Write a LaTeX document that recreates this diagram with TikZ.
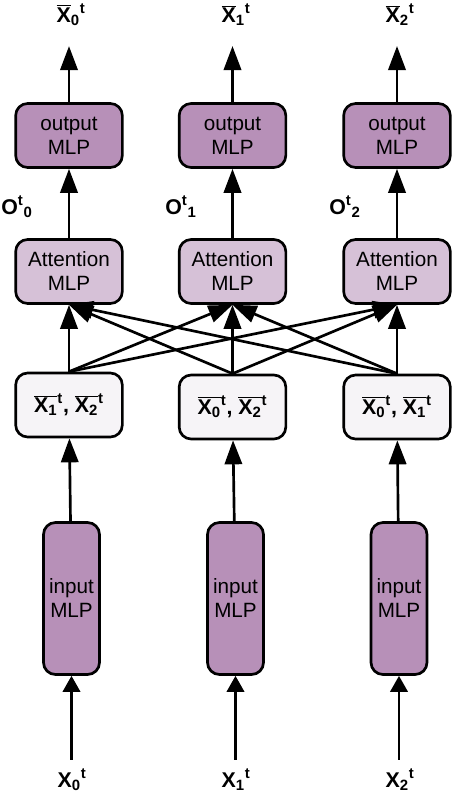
\documentclass[tikz,border=0pt]{standalone}
\usepackage{fontspec}
\setmainfont{Liberation Sans}
\usetikzlibrary{arrows.meta}

\definecolor{outcol}{HTML}{B790B8}
\definecolor{attcol}{HTML}{D6C1D7}
\definecolor{xcol}{HTML}{F6F4F7}

\newcommand{\xbar}[1]{$\overline{\hbox{X}}$\textsubscript{#1}\textsuperscript{t}}
\newcommand{\xbarsub}[1]{$\overline{\hbox{X\textsubscript{#1}}}$\textsuperscript{t}}
\newcommand{\xin}[1]{X\textsubscript{#1}\textsuperscript{t}}
\newcommand{\ot}[1]{O\textsuperscript{t}\textsubscript{#1}}

\tikzset{
	mlp/.style={draw, line width=2pt, rounded corners=9pt, align=center, inner sep=0pt,
		minimum width=80pt, minimum height=48pt, font=\fontsize{15.5}{18}\selectfont},
	outbox/.style={mlp, fill=outcol},
	attbox/.style={mlp, fill=attcol},
	xbox/.style={mlp, fill=xcol, font=\fontsize{16}{19}\selectfont\bfseries},
	inbox/.style={mlp, fill=outcol, minimum width=42pt, minimum height=114pt},
	lbl/.style={inner sep=0pt, font=\fontsize{16}{19}\selectfont\bfseries},
	arr/.style={line width=2pt, -{Triangle[length=18pt,width=13pt]}},
	arrin/.style={line width=2pt, -{Triangle[length=12pt,width=13pt]}}
}

\begin{document}
\begin{tikzpicture}[x=0.75pt,y=-0.75pt]
			\useasboundingbox (0,0) rectangle (454,792);
			
			% Output MLPs
			\node[outbox] (out0) at (69,135.5) {output\\MLP};
			\node[outbox] (out1) at (232.5,135.5) {output\\MLP};
			\node[outbox] (out2) at (397,135.5) {output\\MLP};
			
			% Attention MLPs
			\node[attbox] (att0) at (69,271.5) {Attention\\MLP};
			\node[attbox] (att1) at (232.5,271.5) {Attention\\MLP};
			\node[attbox] (att2) at (397,271.5) {Attention\\MLP};
			
			% Other agents
			\node[xbox] (oth0) at (69,405) {\xbarsub{1}, \xbarsub{2}};
			\node[xbox] (oth1) at (232.5,407) {\xbarsub{0}, \xbarsub{2}};
			\node[xbox] (oth2) at (397,407) {\xbarsub{0}, \xbarsub{1}};
			
			% Input MLPs
			\node[inbox] (in0) at (71.5,598.5) {input\\MLP};
			\node[inbox] (in1) at (235.5,598.5) {input\\MLP};
			\node[inbox] (in2) at (399,598.5) {input\\MLP};
			
			% Labels
			\node[lbl] (top0) at (71,15) {\xbar{0}};
			\node[lbl] (top1) at (236,15) {\xbar{1}};
			\node[lbl] (top2) at (400,15) {\xbar{2}};
			\node[lbl] (o0) at (17,207) {\ot{0}};
			\node[lbl] (o1) at (181,207) {\ot{1}};
			\node[lbl] (o2) at (345,207) {\ot{2}};
			\node[lbl] (bot0) at (72,780) {\xin{0}};
			\node[lbl] (bot1) at (236,780) {\xin{1}};
			\node[lbl] (bot2) at (400,780) {\xin{2}};
			
			% Arrows
			\draw[arr,shorten >=15pt] (out0) -- (out0 |- top0.south);
			\draw[arr,shorten >=15pt] (out1) -- (out1 |- top1.south);
			\draw[arr,shorten >=15pt] (out2) -- (out2 |- top2.south);
			\draw[arr] (att0) -- (out0);
			\draw[arr] (att1) -- (out1);
			\draw[arr] (att2) -- (out2);
			\draw[arr] (in0) -- (oth0);
			\draw[arr] (in1) -- (oth1);
			\draw[arr] (in2) -- (oth2);
			\draw[arrin,shorten <=7pt] (bot0.north -| in0) -- (in0);
			\draw[arrin,shorten <=7pt] (bot1.north -| in1) -- (in1);
			\draw[arrin,shorten <=7pt] (bot2.north -| in2) -- (in2);
			
			% Cross arrows
			\draw[arr] (oth0.north) -- (att0.south);
			\draw[arr] (oth0.north) -- (att1.south);
			\draw[arr] (oth0.north) -- (att2.south);
			\draw[arr] (oth1.north) -- (att0.south);
			\draw[arr] (oth1.north) -- (att1.south);
			\draw[arr] (oth1.north) -- (att2.south);
			\draw[arr] (oth2.north) -- (att0.south);
			\draw[arr] (oth2.north) -- (att1.south);
			\draw[arr] (oth2.north) -- (att2.south);
			
		\end{tikzpicture}
\end{document}
